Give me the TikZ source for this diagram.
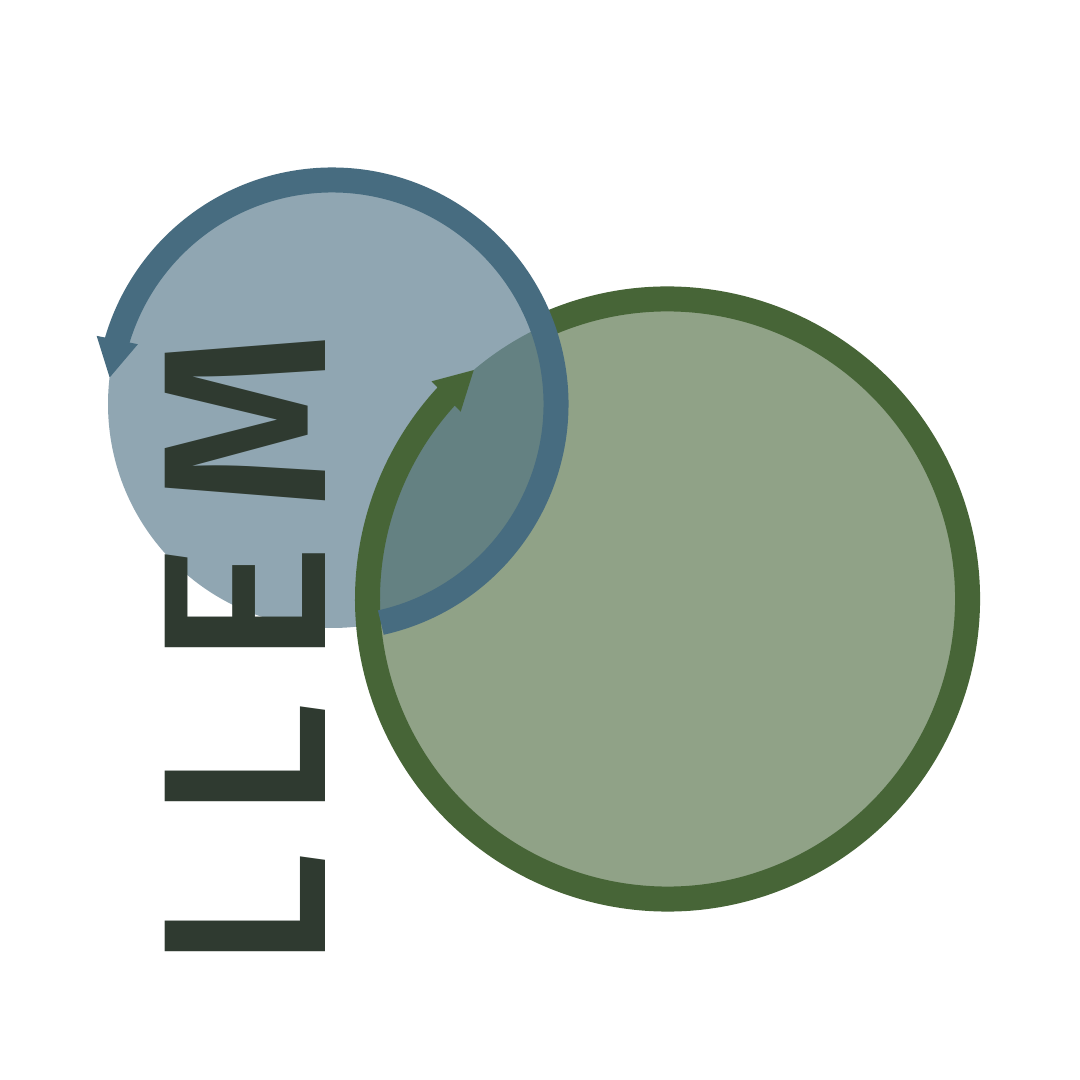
\documentclass[tikz,border=0pt]{standalone}
\usepackage{fontspec}
\IfFontExistsTF{Fira Sans Medium}
  {\newfontfamily\logofont{Fira Sans Medium}\newcommand\logoweight{}}
  {\newfontfamily\logofont{Fira Sans}\newcommand\logoweight{\bfseries}}
\usetikzlibrary{arrows.meta,bending}
\definecolor{bluestroke}{HTML}{476C80}
\definecolor{greenstroke}{HTML}{476537}
\definecolor{textcol}{HTML}{2F3A30}
\tikzset{
  ringline/.style={line width=25pt},
  tipshape/.style={-{Triangle[length=39pt,width=39pt,flex]}},
  logotext/.style={font=\logofont\logoweight\fontsize{232}{240}\selectfont, text=textcol, inner sep=0pt}
}
\begin{document}
\begin{tikzpicture}[x=1pt,y=1pt]
\useasboundingbox (0,0) rectangle (1080,1080);
\fill[white] (0,0) rectangle (1080,1080);
\coordinate (bc) at (332,676);
\coordinate (gc) at (667.5,481);
\fill[greenstroke, fill opacity=0.6] (gc) circle[radius=300];
\fill[bluestroke, fill opacity=0.6] (bc) circle[radius=224];
\draw[ringline, greenstroke, tipshape] ([shift={(115:300)}]gc) arc[start angle=115, end angle=-229.9, radius=300];
\draw[ringline, bluestroke, tipshape] ([shift={(-77.4:224)}]bc) arc[start angle=-77.4, end angle=173.4, radius=224];
\node[logotext, rotate=90, anchor=base west] (word) at (325,109) {L\kern33pt L\kern37pt E\kern32pt M};
\end{tikzpicture}
\end{document}
